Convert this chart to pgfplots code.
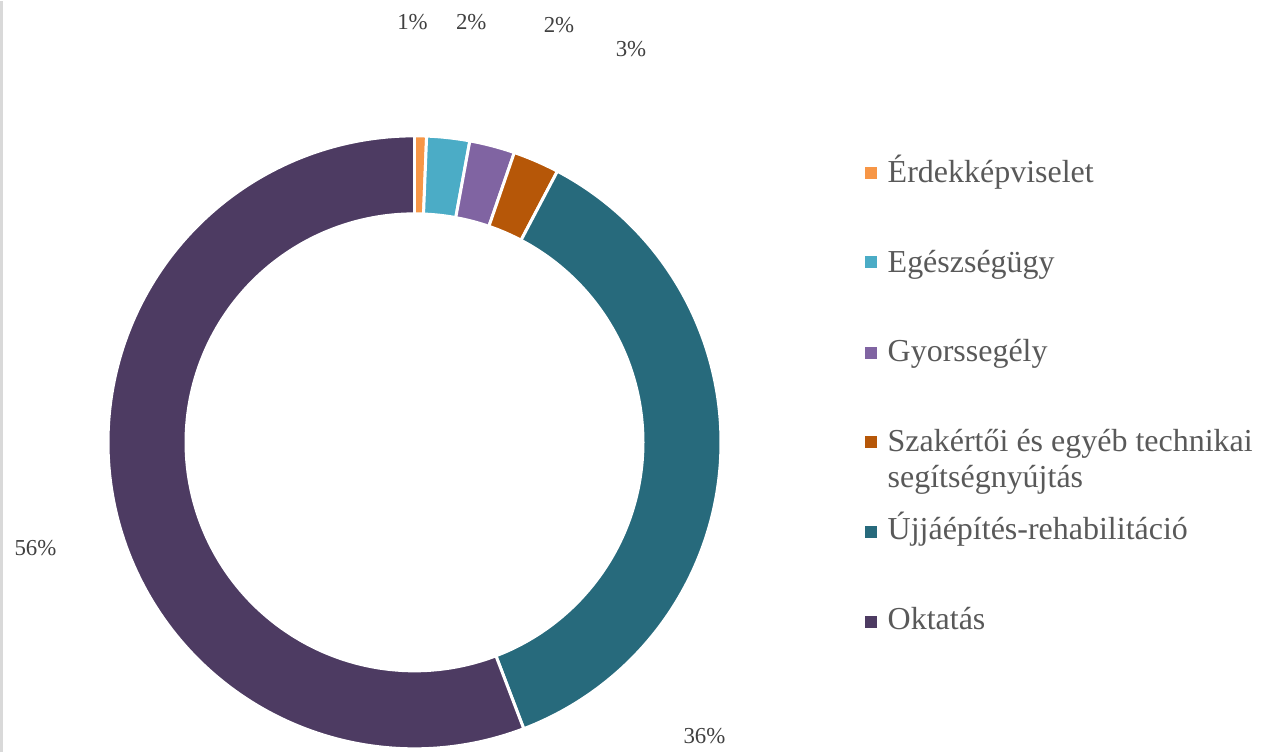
\documentclass[border=0pt]{standalone}
\usepackage{fontspec}
\setmainfont{Liberation Serif}
\usepackage{pgfplots}
\pgfplotsset{compat=1.18}
\definecolor{cErd}{HTML}{F79646}
\definecolor{cEgz}{HTML}{4BACC6}
\definecolor{cGyo}{HTML}{8064A2}
\definecolor{cSza}{HTML}{B65708}
\definecolor{cUjj}{HTML}{276A7C}
\definecolor{cOkt}{HTML}{4D3B62}
\definecolor{labc}{HTML}{404040}
\definecolor{legc}{HTML}{595959}
\definecolor{framec}{HTML}{D9D9D9}
% shares in percent
\def\vErd{0.63}
\def\vEgz{2.26}
\def\vGyo{2.39}
\def\vSza{2.44}
\def\vUjj{36.48}
\def\vOkt{55.80}
\pgfmathsetmacro{\aA}{0}
\pgfmathsetmacro{\aB}{\aA+3.6*\vErd}
\pgfmathsetmacro{\aC}{\aB+3.6*\vEgz}
\pgfmathsetmacro{\aD}{\aC+3.6*\vGyo}
\pgfmathsetmacro{\aE}{\aD+3.6*\vSza}
\pgfmathsetmacro{\aF}{\aE+3.6*\vUjj}
\pgfmathsetmacro{\aG}{\aF+3.6*\vOkt}
\newcommand{\cx}{414.5}
\newcommand{\cy}{309.7}
\newcommand{\Rout}{306.5}
\newcommand{\Rin}{230}
\begin{document}
\begin{tikzpicture}
\begin{axis}[scale only axis, width=12.64cm, height=7.51cm,
  xmin=0, xmax=1264, ymin=0, ymax=751, hide axis, clip=false]
\path (rel axis cs:0,0) rectangle (rel axis cs:1,1);
\draw[framec, line width=0.6pt] (axis cs:1.5,0) -- (axis cs:1.5,751);
\addplot[fill=cErd, draw=white, line width=0.85pt, line join=round, domain=\aA:\aB, samples=20, variable=\t]
  ({\cx+\Rout*sin(\t)},{\cy+\Rout*cos(\t)}) -- (axis cs:\cx,\cy) -- cycle;
\addplot[fill=cEgz, draw=white, line width=0.85pt, line join=round, domain=\aB:\aC, samples=30, variable=\t]
  ({\cx+\Rout*sin(\t)},{\cy+\Rout*cos(\t)}) -- (axis cs:\cx,\cy) -- cycle;
\addplot[fill=cGyo, draw=white, line width=0.85pt, line join=round, domain=\aC:\aD, samples=30, variable=\t]
  ({\cx+\Rout*sin(\t)},{\cy+\Rout*cos(\t)}) -- (axis cs:\cx,\cy) -- cycle;
\addplot[fill=cSza, draw=white, line width=0.85pt, line join=round, domain=\aD:\aE, samples=30, variable=\t]
  ({\cx+\Rout*sin(\t)},{\cy+\Rout*cos(\t)}) -- (axis cs:\cx,\cy) -- cycle;
\addplot[fill=cUjj, draw=white, line width=0.85pt, line join=round, domain=\aE:\aF, samples=120, variable=\t]
  ({\cx+\Rout*sin(\t)},{\cy+\Rout*cos(\t)}) -- (axis cs:\cx,\cy) -- cycle;
\addplot[fill=cOkt, draw=white, line width=0.85pt, line join=round, domain=\aF:\aG, samples=160, variable=\t]
  ({\cx+\Rout*sin(\t)},{\cy+\Rout*cos(\t)}) -- (axis cs:\cx,\cy) -- cycle;
\addplot[fill=white, draw=none, domain=0:360, samples=241, variable=\t]
  ({\cx+\Rin*sin(\t)},{\cy+\Rin*cos(\t)}) -- cycle;
% data labels
\begin{scope}[every node/.style={font=\fontsize{6.5}{7}\selectfont, text=labc, inner sep=0pt}]
\node at (axis cs:412.5,730) {1\%};
\node at (axis cs:471.3,730) {2\%};
\node at (axis cs:559,727) {2\%};
\node at (axis cs:631,703) {3\%};
\node at (axis cs:704.5,16) {36\%};
\node at (axis cs:35.5,204) {56\%};
\end{scope}
% legend
\fill[cErd] (axis cs:865,573) rectangle (axis cs:877,585);
\fill[cEgz] (axis cs:865,484) rectangle (axis cs:877,496);
\fill[cGyo] (axis cs:865,393) rectangle (axis cs:877,405);
\fill[cSza] (axis cs:865,304) rectangle (axis cs:877,316);
\fill[cUjj] (axis cs:865,214) rectangle (axis cs:877,226);
\fill[cOkt] (axis cs:865,124) rectangle (axis cs:877,136);
\begin{scope}[every node/.style={font=\fontsize{9.1}{10.5}\selectfont, text=legc, inner sep=0pt, anchor=base west}]
\node at (axis cs:887,569.3) {Érdekképviselet};
\node at (axis cs:887,479.3) {Egészségügy};
\node at (axis cs:887,391) {Gyorssegély};
\node at (axis cs:887,301) {Szakértői és egyéb technikai};
\node at (axis cs:887,264.3) {segítségnyújtás};
\node at (axis cs:887,212.7) {Újjáépítés-rehabilitáció};
\node at (axis cs:887,122.7) {Oktatás};
\end{scope}
\end{axis}
\end{tikzpicture}
\end{document}
